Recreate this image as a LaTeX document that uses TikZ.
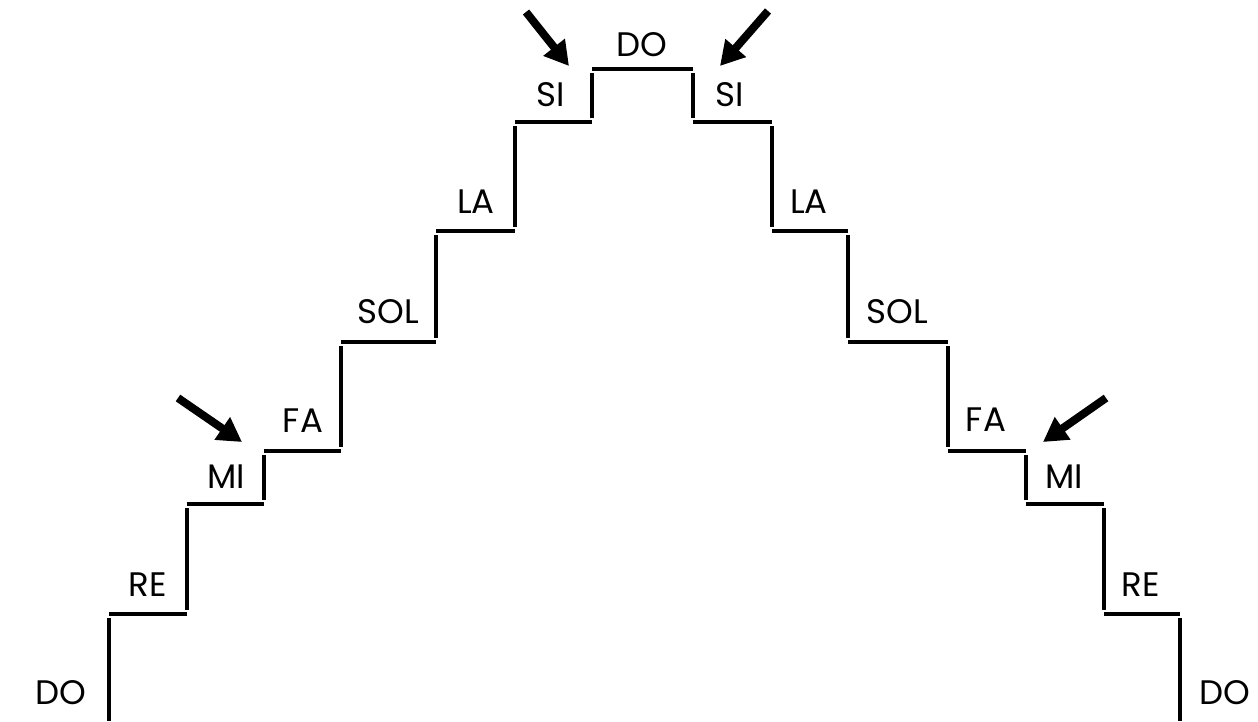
\documentclass[tikz,border=0pt]{standalone}
\usepackage{fontspec}
\setmainfont{Poppins}
\usetikzlibrary{arrows.meta}
\tikzset{
  stair/.style={line width=4.5pt, line cap=butt},
  riser/.style={stair, shorten <=4pt, shorten >=4pt},
  note/.style={anchor=base, inner sep=0pt, font=\fontsize{34}{34}\selectfont},
  pointer/.style={line width=8pt, -{Triangle[length=24pt,width=26pt]}}
}
\begin{document}
\begin{tikzpicture}[x=1pt,y=-1pt]
\useasboundingbox (0,0) rectangle (1258,721);
% corners
\coordinate (L0) at (109,721);
\coordinate (L1) at (109,614);
\coordinate (L2) at (187,614);
\coordinate (L3) at (187,504);
\coordinate (L4) at (264,504);
\coordinate (L5) at (264,451);
\coordinate (L6) at (341,451);
\coordinate (L7) at (341,342);
\coordinate (L8) at (436,342);
\coordinate (L9) at (436,231);
\coordinate (L10) at (515,231);
\coordinate (L11) at (515,122);
\coordinate (L12) at (592,122);
\coordinate (L13) at (592,69);
\coordinate (R13) at (693,69);
\coordinate (R12) at (693,122);
\coordinate (R11) at (772,122);
\coordinate (R10) at (772,231);
\coordinate (R9) at (848,231);
\coordinate (R8) at (848,342);
\coordinate (R7) at (948,342);
\coordinate (R6) at (948,451);
\coordinate (R5) at (1026,451);
\coordinate (R4) at (1026,504);
\coordinate (R3) at (1104,504);
\coordinate (R2) at (1104,614);
\coordinate (R1) at (1180,614);
\coordinate (R0) at (1180,721);
% risers
\draw[stair, shorten >=4pt] (L0) -- (L1);
\draw[riser] (L2) -- (L3);
\draw[riser] (L4) -- (L5);
\draw[riser] (L6) -- (L7);
\draw[riser] (L8) -- (L9);
\draw[riser] (L10) -- (L11);
\draw[riser] (L12) -- (L13);
\draw[riser] (R13) -- (R12);
\draw[riser] (R11) -- (R10);
\draw[riser] (R9) -- (R8);
\draw[riser] (R7) -- (R6);
\draw[riser] (R5) -- (R4);
\draw[riser] (R3) -- (R2);
\draw[stair, shorten <=4pt] (R1) -- (R0);
% treads
\draw[stair] (L1) -- (L2);
\draw[stair] (L3) -- (L4);
\draw[stair] (L5) -- (L6);
\draw[stair] (L7) -- (L8);
\draw[stair] (L9) -- (L10);
\draw[stair] (L11) -- (L12);
\draw[stair] (L13) -- (R13);
\draw[stair] (R12) -- (R11);
\draw[stair] (R10) -- (R9);
\draw[stair] (R8) -- (R7);
\draw[stair] (R6) -- (R5);
\draw[stair] (R4) -- (R3);
\draw[stair] (R2) -- (R1);
% labels
\node[note] (doL) at (61,704) {DO};
\node[note] (reL) at (148,596) {RE};
\node[note] (miL) at (226,488) {MI};
\node[note] (faL) at (303,432) {FA};
\node[note] (solL) at (388,323) {SOL};
\node[note] (laL) at (476,213) {LA};
\node[note] (siL) at (551,106) {SI};
\node[note] (doT) at (642,56) {DO};
\node[note] (siR) at (730,106) {SI};
\node[note] (laR) at (809,213) {LA};
\node[note] (solR) at (897,323) {SOL};
\node[note] (faR) at (986,431) {FA};
\node[note] (miR) at (1064,488) {MI};
\node[note] (reR) at (1141,596) {RE};
\node[note] (doR) at (1225,704) {DO};
% arrows
\coordinate (a1s) at (178,398); \coordinate (a1e) at (242,442);
\coordinate (a2s) at (526,12);  \coordinate (a2e) at (569,66);
\coordinate (a3s) at (768,11);  \coordinate (a3e) at (720,66);
\coordinate (a4s) at (1106,398); \coordinate (a4e) at (1043,442);
\draw[pointer] (a1s) -- (a1e);
\draw[pointer] (a2s) -- (a2e);
\draw[pointer] (a3s) -- (a3e);
\draw[pointer] (a4s) -- (a4e);
\end{tikzpicture}
\end{document}
